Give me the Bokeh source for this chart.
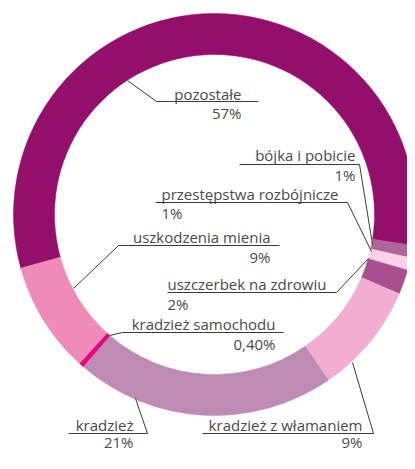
import math
from bokeh.plotting import figure
from bokeh.models import Range1d
from bokeh.core.properties import value
from bokeh.embed import file_html
from bokeh.resources import INLINE

# ---- data ----
names = ["pozostałe", "bójka i pobicie", "przestępstwa rozbójnicze", "uszczerbek na zdrowiu",
         "kradzież z włamaniem", "kradzież", "kradzież samochodu", "uszkodzenia mienia"]
values = [57, 1, 1, 2, 9, 21, 0.4, 9]
pct_labels = ["57%", "1%", "1%", "2%", "9%", "21%", "0,40%", "9%"]
colors = ["#930f6b", "#b0649a", "#f9d2e6", "#a8508e", "#f2aed0", "#be8bb4", "#e5097f", "#ee8bb9"]

# ---- layout (picture pixel coordinates) ----
W, H = 407, 453
def X(ix): return ix
def Y(iy): return H - iy

CX, CY = 214, 214
R_IN, R_OUT = 160, 201
START_DEG = 195.5  # start angle of first slice, going clockwise
DY = 6  # text baseline correction

# label anchors: (name_x, name_y, pct_x, pct_y, align)
label_pos = [
    (241, 99, 241, 118, "right"),
    (355, 160, 355, 180, "right"),
    (161, 199, 161, 218, "left"),
    (167, 289, 167, 309, "left"),
    (362, 430, 362, 447, "right"),
    (133, 430, 133, 447, "right"),
    (275, 329, 275, 349, "right"),
    (270, 242, 270, 262, "right"),
]
leaders = [
    [(258, 101), (156, 101), (127, 80)],
    [(239, 164), (359, 164), (372, 244)],
    [(155, 202), (347, 202), (371, 251)],
    [(167, 292), (336, 292), (368, 258)],
    [(202, 433), (373, 433), (352, 362)],
    [(68, 433), (147, 433), (135, 398)],
    [(283, 332), (122, 332), (109, 335)],
    [(279, 245), (118, 245), (73, 288)],
]

p = figure(width=W, height=H, output_backend="svg", toolbar_location=None,
           x_range=Range1d(0, W), y_range=Range1d(0, H),
           min_border=0, outline_line_color=None, background_fill_color="white")
p.axis.visible = False
p.grid.visible = False

total = sum(values)
starts, ends = [], []
a = math.radians(START_DEG)
for v in values:
    span = 2 * math.pi * v / total
    starts.append(a)
    ends.append(a - span)
    a -= span

p.annular_wedge(x=[X(CX)] * len(values), y=[Y(CY)] * len(values),
                inner_radius=R_IN, outer_radius=R_OUT,
                start_angle=starts, end_angle=ends, direction="clock",
                fill_color=colors, line_color=colors, line_width=0.5)

line_col = "#3a3a3a"
for pts in leaders:
    p.line([X(q[0]) for q in pts], [Y(q[1]) for q in pts], line_color=line_col, line_width=1)

font = value("Open Sans")
txt_col = "#4a4a4a"
for i, (nx, ny, px, py, al) in enumerate(label_pos):
    p.text(x=[X(nx)], y=[Y(ny - DY)], text=[names[i]], text_font=font, text_font_size="15px",
           text_color=txt_col, text_align=al, text_baseline="alphabetic")
    p.text(x=[X(px)], y=[Y(py - DY)], text=[pct_labels[i]], text_font=font, text_font_size="15px",
           text_color=txt_col, text_align=al, text_baseline="alphabetic")

open("out.html", "w").write(file_html(p, INLINE))
